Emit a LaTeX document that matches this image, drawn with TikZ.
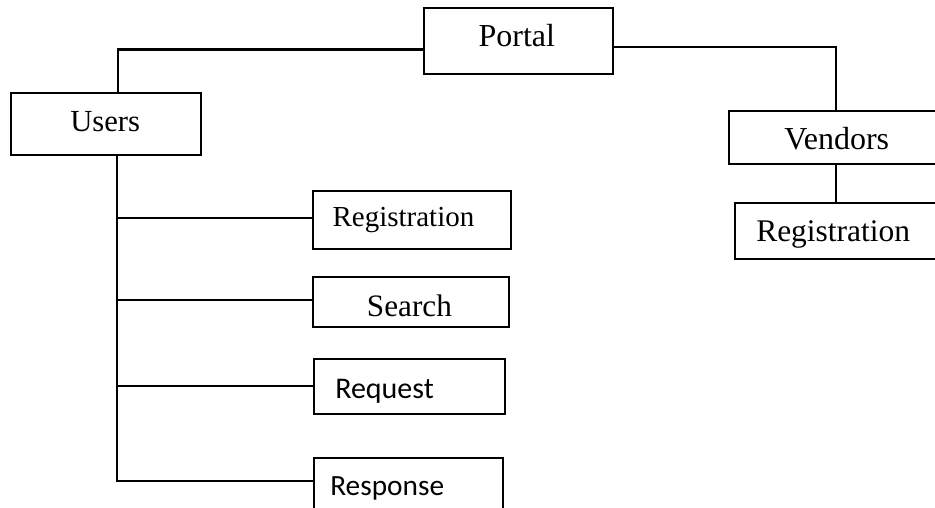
\documentclass[tikz,border=0pt]{standalone}
\usepackage{fontspec}
\setmainfont{Liberation Serif}
\newfontfamily\bodysans{Carlito}
\begin{document}
\begin{tikzpicture}[x=0.75pt,y=-0.75pt,
  box/.style={draw,line width=1.6pt,rectangle,inner sep=0pt,anchor=north west},
  txt/.style={inner sep=0pt,anchor=base west},
  link/.style={line width=1.6pt}]
\useasboundingbox (0,0) rectangle (935,507);
\clip (0,0) rectangle (935,507);

% boxes (north-west corner, width x height)
\node[box,minimum width=189.3*0.75pt,minimum height=65.4*0.75pt] (portal) at (422.7,7.3) {};
\node[box,minimum width=190*0.75pt,minimum height=62*0.75pt] (users) at (10,92) {};
\node[box,minimum width=222*0.75pt,minimum height=53.3*0.75pt] (vendors) at (728,110) {};
\node[box,minimum width=216*0.75pt,minimum height=56*0.75pt] (vreg) at (734,202) {};
\node[box,minimum width=198*0.75pt,minimum height=57.7*0.75pt] (reg) at (312,190) {};
\node[box,minimum width=196*0.75pt,minimum height=49.7*0.75pt] (search) at (312,276) {};
\node[box,minimum width=191*0.75pt,minimum height=55*0.75pt] (request) at (313,358) {};
\node[box,minimum width=189*0.75pt,minimum height=70*0.75pt] (response) at (313,457) {};

% labels
\node[txt,font=\fontsize{24}{28}\selectfont] (portal-t) at (478.3,46.7) {Portal};
\node[txt,font=\fontsize{23}{27}\selectfont] (users-t) at (70,131.7) {Users};
\node[txt,font=\fontsize{24}{28}\selectfont] (vendors-t) at (784,149) {Vendors};
\node[txt,font=\fontsize{23.6}{28}\selectfont] (vreg-t) at (756,241) {Registration};
\node[txt,font=\fontsize{21.75}{26}\selectfont] (reg-t) at (332.3,226.7) {Registration};
\node[txt,font=\fontsize{23.4}{28}\selectfont] (search-t) at (366.7,316.7) {Search};
\node[txt,font=\bodysans\fontsize{22.5}{27}\selectfont] (request-t) at (335,398) {Request};
\node[txt,font=\bodysans\fontsize{22}{26}\selectfont] (response-t) at (330,495) {Response};

% junction points
\coordinate (lj) at (118,49.5);
\coordinate (rj) at (836,46.7);
\coordinate (trunk) at (117,480.7);
\coordinate (b1) at (117,217.7);
\coordinate (b2) at (117,300);
\coordinate (b3) at (117,385.7);

% connectors
\draw[link] (lj |- users.north) -- (lj) -- (lj -| portal.west);
\draw[link] (rj -| portal.east) -- (rj) -- (rj |- vendors.north);
\draw[link] (rj |- vendors.south) -- (rj |- vreg.north);
\draw[link] (trunk |- users.south) -- (trunk) -- (trunk -| response.west);
\draw[link] (b1) -- (b1 -| reg.west);
\draw[link] (b2) -- (b2 -| search.west);
\draw[link] (b3) -- (b3 -| request.west);
\end{tikzpicture}
\end{document}
